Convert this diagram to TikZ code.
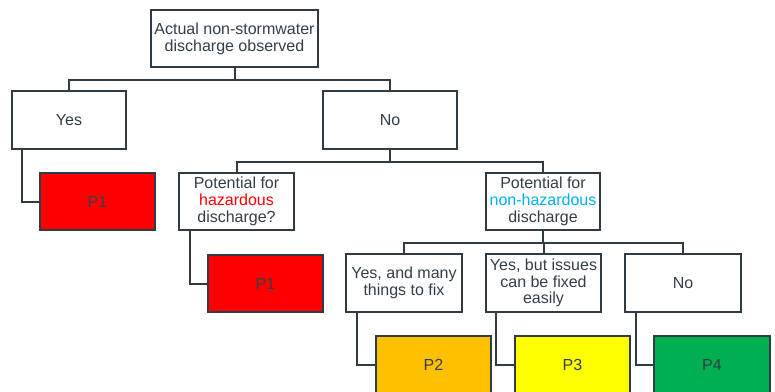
\documentclass[tikz,border=0pt]{standalone}
\usepackage{fontspec}
\setmainfont{Liberation Sans}
\definecolor{edge}{HTML}{2F3B45}
\definecolor{txt}{HTML}{333F48}
\definecolor{pa}{HTML}{FF0000}
\definecolor{pb}{HTML}{FFC000}
\definecolor{pc}{HTML}{FFFF00}
\definecolor{pd}{HTML}{00B050}
\definecolor{haz}{HTML}{FF0000}
\definecolor{nonhaz}{HTML}{00B0F0}
\begin{document}
\begin{tikzpicture}[x=1pt,y=1pt,
  box/.style={draw=edge,line width=2pt,fill=white,rectangle,inner sep=1pt,
    minimum width=#1,minimum height=57pt,align=center,text=txt,
    font=\fontsize{16}{16.8}\selectfont},
  box/.default=115pt,
  pbox/.style={box=115pt,fill=#1},
  link/.style={draw=edge,line width=2pt}]
\useasboundingbox (0,0) rectangle (775,-391);
\node[box=167pt] (top) at (234.5,-38.5) {Actual non-stormwater\\discharge observed};
\node[box=114pt,minimum height=58pt] (yes) at (69,-120) {Yes};
\node[box=134pt,minimum height=58pt] (no) at (390,-120) {No};
\node[pbox=pa] (p1a) at (97.5,-201.5) {P1};
\node[box=115pt] (hz) at (236.5,-201.5) {Potential for\\\textcolor{haz}{hazardous}\\discharge?};
\node[box=114pt] (nh) at (543,-201.5) {Potential for\\\textcolor{nonhaz}{non-hazardous}\\discharge};
\node[pbox=pa] (p1b) at (265.5,-283.5) {P1};
\node[box=116pt,minimum height=58pt] (b1) at (404,-283) {Yes, and many\\things to fix};
\node[box=115pt,minimum height=58pt] (b2) at (543.5,-283) {Yes, but issues\\can be fixed\\easily};
\node[box=116pt,minimum height=58pt] (b3) at (683,-283) {No};
\node[pbox=pb] (p2) at (433.5,-364.5) {P2};
\node[pbox=pc] (p3) at (572.5,-364.5) {P3};
\node[pbox=pd,minimum width=116pt] (p4) at (712,-364.5) {P4};
\draw[link] (top.south) -- ++(0,-12) -| (yes.north);
\draw[link] (top.south) -- ++(0,-12) -| (no.north);
\draw[link] (no.south) -- ++(0,-12) -| (hz.north);
\draw[link] (no.south) -- ++(0,-12) -| (nh.north);
\draw[link] (nh.south) -- ++(0,-12) -| (b1.north);
\draw[link] (nh.south) -- ++(0,-12) -| (b2.north);
\draw[link] (nh.south) -- ++(0,-12) -| (b3.north);
\draw[link] (yes.south west) ++(11,0) |- (p1a.west);
\draw[link] (hz.south west) ++(12,0) |- (p1b.west);
\draw[link] (b1.south west) ++(12,0) |- (p2.west);
\draw[link] (b2.south west) ++(11,0) |- (p3.west);
\draw[link] (b3.south west) ++(12,0) |- (p4.west);
\end{tikzpicture}
\end{document}
